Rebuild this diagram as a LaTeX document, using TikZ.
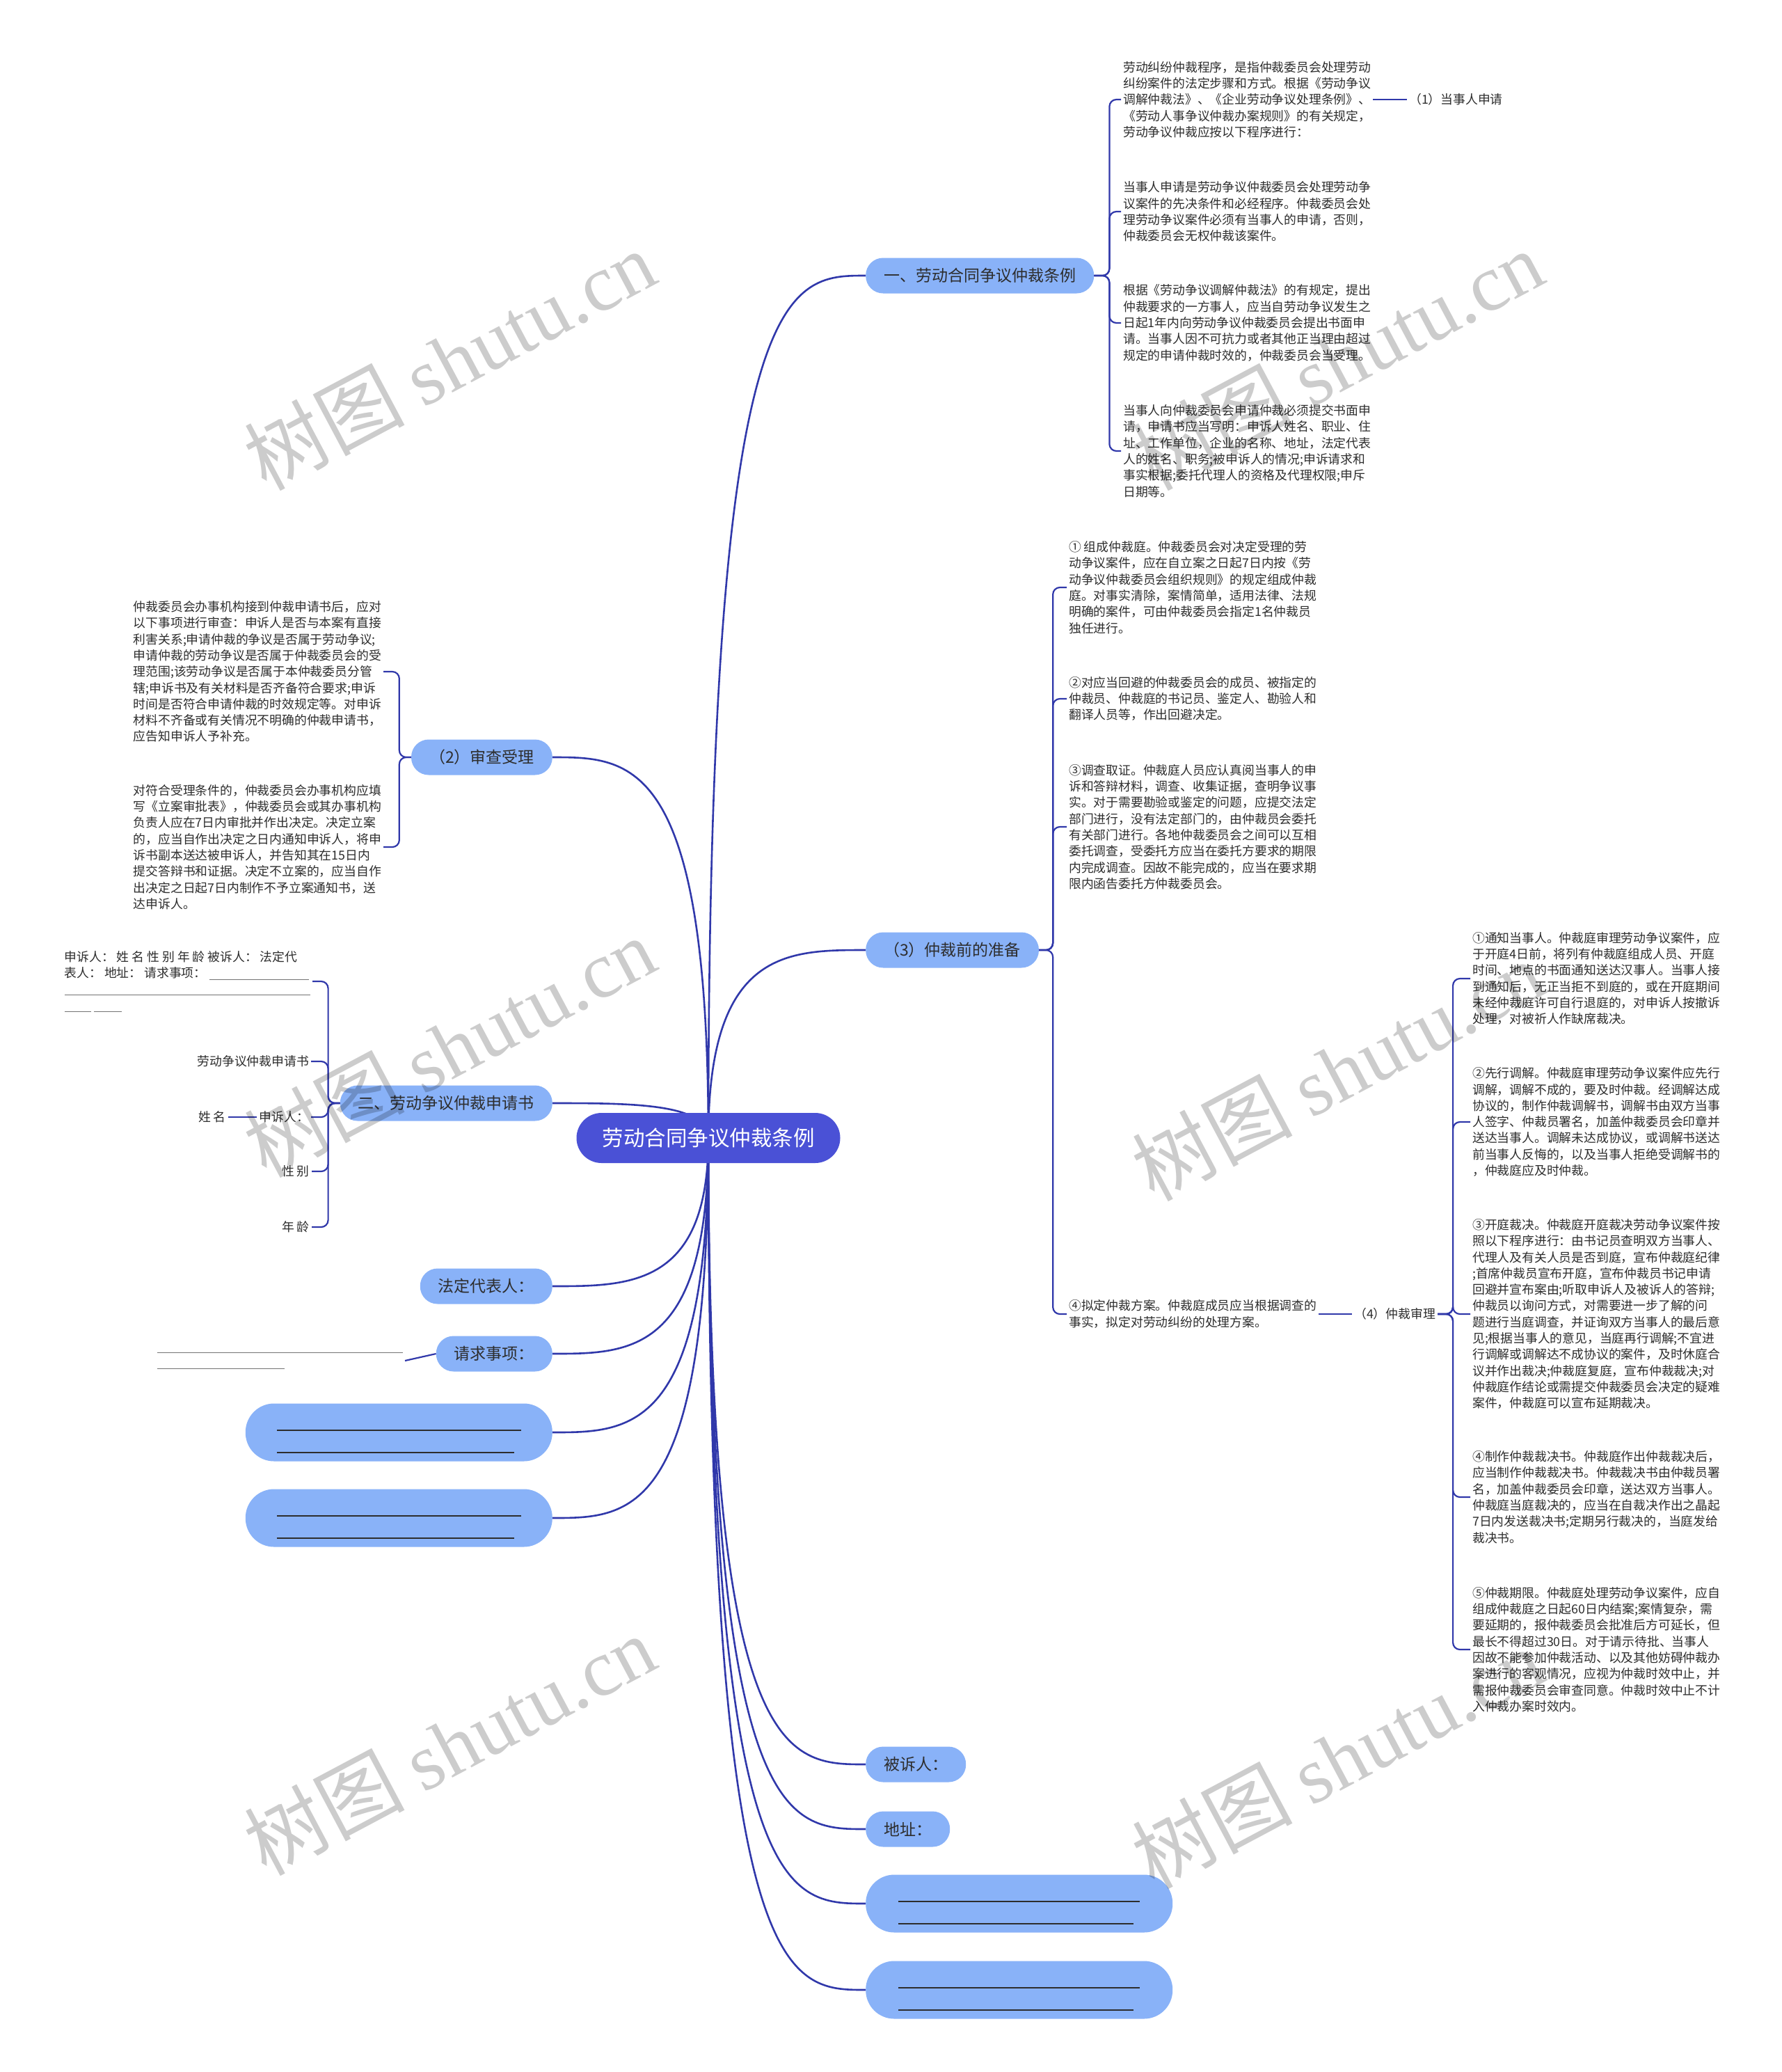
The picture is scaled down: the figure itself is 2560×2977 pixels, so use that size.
\documentclass[tikz,border=0pt]{standalone}
\usepackage{fontspec}
\newfontfamily\cjk{Noto Sans CJK SC}
\newfontfamily\wmserif{Liberation Serif}
\usetikzlibrary{backgrounds}
\definecolor{linkc}{RGB}{48,56,170}
\definecolor{rootc}{RGB}{74,81,214}
\definecolor{boxc}{RGB}{137,178,248}
\definecolor{textc}{RGB}{45,45,45}

\begin{document}
\begin{tikzpicture}[x=1pt, y=-1pt,
  root/.style = {fill=rootc, text=white, rounded corners=36pt, minimum height=72pt, inner xsep=37pt, font=\cjk\fontsize{30.5}{36}\selectfont},
  main/.style = {fill=boxc, text=textc, rounded corners=25pt, minimum height=51pt, inner xsep=26pt, font=\cjk\fontsize{23}{32}\selectfont},
  blank/.style = {main, minimum height=83pt, minimum width=441pt, rounded corners=41pt, align=left},
  txt/.style = {text=textc, align=left, inner sep=3pt, font=\cjk\fontsize{17.8}{23.3}\selectfont},
  link/.style = {draw=linkc, line width=2.6pt},
  sub/.style = {draw=linkc, line width=2.2pt, rounded corners=10pt},
  wm/.style = {text=black, text opacity=0.2, rotate=28, font=\cjk\fontsize{115}{115}\selectfont}]

  \node[root] (0) at (1018,1635) {劳动合同争议仲裁条例};

  \node[main, anchor=west] (1) at (1244,396) {一、劳动合同争议仲裁条例};
  \node[main, anchor=west] (2) at (1244,1365) {（3）仲裁前的准备};
  \node[main, anchor=west] (3) at (1244,2535) {被诉人：};
  \node[main, anchor=west] (4) at (1244,2628) {地址：};
  \node[blank, anchor=west] (5) at (1244,2735) {\rule{0pt}{25pt}\rule[-2pt]{347pt}{1.3pt}\\\rule{0pt}{25pt}\rule[-2pt]{338pt}{1.3pt}};
  \node[blank, anchor=west] (6) at (1244,2859) {\rule{0pt}{25pt}\rule[-2pt]{347pt}{1.3pt}\\\rule{0pt}{25pt}\rule[-2pt]{338pt}{1.3pt}};
  \node[main, anchor=east] (7) at (794,1088) {（2）审查受理};
  \node[main, anchor=east] (8) at (794,1585) {二、劳动争议仲裁申请书};
  \node[main, anchor=east] (9) at (794,1848) {法定代表人：};
  \node[main, anchor=east] (10) at (794,1945) {请求事项：};
  \node[blank, anchor=east] (11) at (794,2058) {\rule{0pt}{25pt}\rule[-2pt]{351pt}{1.3pt}\\\rule{0pt}{25pt}\rule[-2pt]{341pt}{1.3pt}};
  \node[blank, anchor=east] (12) at (794,2181) {\rule{0pt}{25pt}\rule[-2pt]{351pt}{1.3pt}\\\rule{0pt}{25pt}\rule[-2pt]{341pt}{1.3pt}};

  \node[txt, anchor=west] (13) at (1611,143) {劳动纠纷仲裁程序，是指仲裁委员会处理劳动\\纠纷案件的法定步骤和方式。根据《劳动争议\\调解仲裁法》、《企业劳动争议处理条例》、\\《劳动人事争议仲裁办案规则》的有关规定，\\劳动争议仲裁应按以下程序进行：};
  \node[txt, anchor=west] (14) at (1611,304) {当事人申请是劳动争议仲裁委员会处理劳动争\\议案件的先决条件和必经程序。仲裁委员会处\\理劳动争议案件必须有当事人的申请，否则，\\仲裁委员会无权仲裁该案件。};
  \node[txt, anchor=west] (15) at (1611,464) {根据《劳动争议调解仲裁法》的有规定，提出\\仲裁要求的一方事人，应当自劳动争议发生之\\日起1年内向劳动争议仲裁委员会提出书面申\\请。当事人因不可抗力或者其他正当理由超过\\规定的申请仲裁时效的，仲裁委员会当受理。};
  \node[txt, anchor=west] (16) at (1611,648) {当事人向仲裁委员会申请仲裁必须提交书面申\\请，申请书应当写明：申诉人姓名、职业、住\\址、工作单位，企业的名称、地址，法定代表\\人的姓名、职务;被申诉人的情况;申诉请求和\\事实根据;委托代理人的资格及代理权限;申斥\\日期等。};
  \node[txt, anchor=west] (17) at (2022,143) {（1）当事人申请};

  \node[txt, anchor=west] (18) at (1533,844) {① 组成仲裁庭。仲裁委员会对决定受理的劳\\动争议案件，应在自立案之日起7日内按《劳\\动争议仲裁委员会组织规则》的规定组成仲裁\\庭。对事实清除，案情简单，适用法律、法规\\明确的案件，可由仲裁委员会指定1名仲裁员\\独任进行。};
  \node[txt, anchor=west] (19) at (1533,1004) {②对应当回避的仲裁委员会的成员、被指定的\\仲裁员、仲裁庭的书记员、鉴定人、勘验人和\\翻译人员等，作出回避决定。};
  \node[txt, anchor=west] (20) at (1533,1188) {③调查取证。仲裁庭人员应认真阅当事人的申\\诉和答辩材料，调查、收集证据，查明争议事\\实。对于需要勘验或鉴定的问题，应提交法定\\部门进行，没有法定部门的，由仲裁员会委托\\有关部门进行。各地仲裁委员会之间可以互相\\委托调查，受委托方应当在委托方要求的期限\\内完成调查。因故不能完成的，应当在要求期\\限内函告委托方仲裁委员会。};
  \node[txt, anchor=west] (21) at (1533,1888) {④拟定仲裁方案。仲裁庭成员应当根据调查的\\事实，拟定对劳动纠纷的处理方案。};
  \node[txt, anchor=west] (22) at (1943,1888) {（4）仲裁审理};

  \node[txt, anchor=west] (23) at (2113,1406) {①通知当事人。仲裁庭审理劳动争议案件，应\\于开庭4日前，将列有仲裁庭组成人员、开庭\\时间、地点的书面通知送达汉事人。当事人接\\到通知后，无正当拒不到庭的，或在开庭期间\\未经仲裁庭许可自行退庭的，对申诉人按撤诉\\处理，对被祈人作缺席裁决。};
  \node[txt, anchor=west] (24) at (2113,1612) {②先行调解。仲裁庭审理劳动争议案件应先行\\调解，调解不成的，要及时仲裁。经调解达成\\协议的，制作仲裁调解书，调解书由双方当事\\人签字、仲裁员署名，加盖仲裁委员会印章并\\送达当事人。调解未达成协议，或调解书送达\\前当事人反悔的，以及当事人拒绝受调解书的\\，仲裁庭应及时仲裁。};
  \node[txt, anchor=west] (25) at (2113,1888) {③开庭裁决。仲裁庭开庭裁决劳动争议案件按\\照以下程序进行：由书记员查明双方当事人、\\代理人及有关人员是否到庭，宣布仲裁庭纪律\\;首席仲裁员宣布开庭，宣布仲裁员书记申请\\回避并宣布案由;听取申诉人及被诉人的答辩;\\仲裁员以询问方式，对需要进一步了解的问\\题进行当庭调查，并证询双方当事人的最后意\\见;根据当事人的意见，当庭再行调解;不宜进\\行调解或调解达不成协议的案件，及时休庭合\\议并作出裁决;仲裁庭复庭，宣布仲裁裁决;对\\仲裁庭作结论或需提交仲裁委员会决定的疑难\\案件，仲裁庭可以宣布延期裁决。};
  \node[txt, anchor=west] (26) at (2113,2151) {④制作仲裁裁决书。仲裁庭作出仲裁裁决后，\\应当制作仲裁裁决书。仲裁裁决书由仲裁员署\\名，加盖仲裁委员会印章，送达双方当事人。\\仲裁庭当庭裁决的，应当在自裁决作出之晶起\\7日内发送裁决书;定期另行裁决的，当庭发给\\裁决书。};
  \node[txt, anchor=west] (27) at (2113,2370) {⑤仲裁期限。仲裁庭处理劳动争议案件，应自\\组成仲裁庭之日起60日内结案;案情复杂，需\\要延期的，报仲裁委员会批准后方可延长，但\\最长不得超过30日。对于请示待批、当事人\\因故不能参加仲裁活动、以及其他妨碍仲裁办\\案进行的客观情况，应视为仲裁时效中止，并\\需报仲裁委员会审查同意。仲裁时效中止不计\\入仲裁办案时效内。};

  \node[txt, anchor=east] (28) at (551,965) {仲裁委员会办事机构接到仲裁申请书后，应对\\以下事项进行审查：申诉人是否与本案有直接\\利害关系;申请仲裁的争议是否属于劳动争议;\\申请仲裁的劳动争议是否属于仲裁委员会的受\\理范围;该劳动争议是否属于本仲裁委员分管\\辖;申诉书及有关材料是否齐备符合要求;申诉\\时间是否符合申请仲裁的时效规定等。对申诉\\材料不齐备或有关情况不明确的仲裁申请书，\\应告知申诉人予补充。};
  \node[txt, anchor=east] (29) at (551,1217) {对符合受理条件的，仲裁委员会办事机构应填\\写《立案审批表》，仲裁委员会或其办事机构\\负责人应在7日内审批并作出决定。决定立案\\的，应当自作出决定之日内通知申诉人，将申\\诉书副本送达被申诉人，并告知其在15日内\\提交答辩书和证据。决定不立案的，应当自作\\出决定之日起7日内制作不予立案通知书，送\\达申诉人。};

  \node[txt, anchor=east] (30) at (449,1410) {申诉人： 姓 名 性 别 年 龄 被诉人： 法定代\\表人： 地址： 请求事项： {\color{black!55}\rule[-3pt]{143pt}{1pt}}\\{\color{black!55}\rule[-2pt]{353pt}{1pt}}\\{\color{black!55}\rule[-2pt]{38pt}{1pt} \rule[-2pt]{40pt}{1pt}}};
  \node[txt, anchor=east] (31) at (447,1525) {劳动争议仲裁申请书};
  \node[txt, anchor=east] (32) at (447,1605) {申诉人：};
  \node[txt, anchor=east] (33) at (328,1605) {姓 名};
  \node[txt, anchor=east] (34) at (448,1683) {性 别};
  \node[txt, anchor=east] (35) at (448,1763) {年 龄};
  \node[txt, anchor=east] (36) at (582,1955) {{\color{black!55}\rule[-1pt]{353pt}{1.2pt}}\\{\color{black!55}\rule[-1pt]{183pt}{1.2pt}}};

  \begin{scope}[on background layer]
    \fill[white] (0,0) rectangle (2560,2977);
    \draw[link] (0.center) .. controls (0.center |- 1.west) and ([xshift=-113pt]1.west) .. (1.west);
    \draw[link] (0.center) .. controls (0.center |- 2.west) and ([xshift=-113pt]2.west) .. (2.west);
    \draw[link] (0.center) .. controls (0.center |- 3.west) and ([xshift=-113pt]3.west) .. (3.west);
    \draw[link] (0.center) .. controls (0.center |- 4.west) and ([xshift=-113pt]4.west) .. (4.west);
    \draw[link] (0.center) .. controls (0.center |- 5.west) and ([xshift=-113pt]5.west) .. (5.west);
    \draw[link] (0.center) .. controls (0.center |- 6.west) and ([xshift=-113pt]6.west) .. (6.west);
    \draw[link] (0.center) .. controls (0.center |- 7.east) and ([xshift=112pt]7.east) .. (7.east);
    \draw[link] (0.center) .. controls (0.center |- 8.east) and ([xshift=112pt]8.east) .. (8.east);
    \draw[link] (0.center) .. controls (0.center |- 9.east) and ([xshift=112pt]9.east) .. (9.east);
    \draw[link] (0.center) .. controls (0.center |- 10.east) and ([xshift=112pt]10.east) .. (10.east);
    \draw[link] (0.center) .. controls (0.center |- 11.east) and ([xshift=112pt]11.east) .. (11.east);
    \draw[link] (0.center) .. controls (0.center |- 12.east) and ([xshift=112pt]12.east) .. (12.east);
  \end{scope}

  \draw[sub] (1.east) -- ++(22pt,0) |- (13.west);
  \draw[sub] (1.east) -- ++(22pt,0) |- (14.west);
  \draw[sub] (1.east) -- ++(22pt,0) |- (15.west);
  \draw[sub] (1.east) -- ++(22pt,0) |- (16.west);
  \draw[sub] (13.east) -- (17.west);
  \draw[sub] (2.east) -- ++(20pt,0) |- (18.west);
  \draw[sub] (2.east) -- ++(20pt,0) |- (19.west);
  \draw[sub] (2.east) -- ++(20pt,0) |- (20.west);
  \draw[sub] (2.east) -- ++(20pt,0) |- (21.west);
  \draw[sub] (21.east) -- (22.west);
  \draw[sub] (22.east) -- ++(22pt,0) |- (23.west);
  \draw[sub] (22.east) -- ++(22pt,0) |- (24.west);
  \draw[sub] (22.east) -- ++(22pt,0) |- (25.west);
  \draw[sub] (22.east) -- ++(22pt,0) |- (26.west);
  \draw[sub] (22.east) -- ++(22pt,0) |- (27.west);
  \draw[sub] (7.west) -- ++(-17pt,0) |- (28.east);
  \draw[sub] (7.west) -- ++(-17pt,0) |- (29.east);
  \draw[sub] (8.west) -- ++(-17pt,0) |- (30.east);
  \draw[sub] (8.west) -- ++(-17pt,0) |- (31.east);
  \draw[sub] (8.west) -- ++(-17pt,0) |- (32.east);
  \draw[sub] (8.west) -- ++(-17pt,0) |- (34.east);
  \draw[sub] (8.west) -- ++(-17pt,0) |- (35.east);
  \draw[sub] (32.west) -- (33.east);
  \draw[sub] (10.west) -- (36.east);

  \node[wm] (37) at (646,517) {树图 {\wmserif shutu.cn}};
  \node[wm] (38) at (1922,517) {树图 {\wmserif shutu.cn}};
  \node[wm] (39) at (646,1504) {树图 {\wmserif shutu.cn}};
  \node[wm] (40) at (1922,1538) {树图 {\wmserif shutu.cn}};
  \node[wm] (41) at (646,2507) {树图 {\wmserif shutu.cn}};
  \node[wm] (42) at (1922,2526) {树图 {\wmserif shutu.cn}};
\end{tikzpicture}
\end{document}
